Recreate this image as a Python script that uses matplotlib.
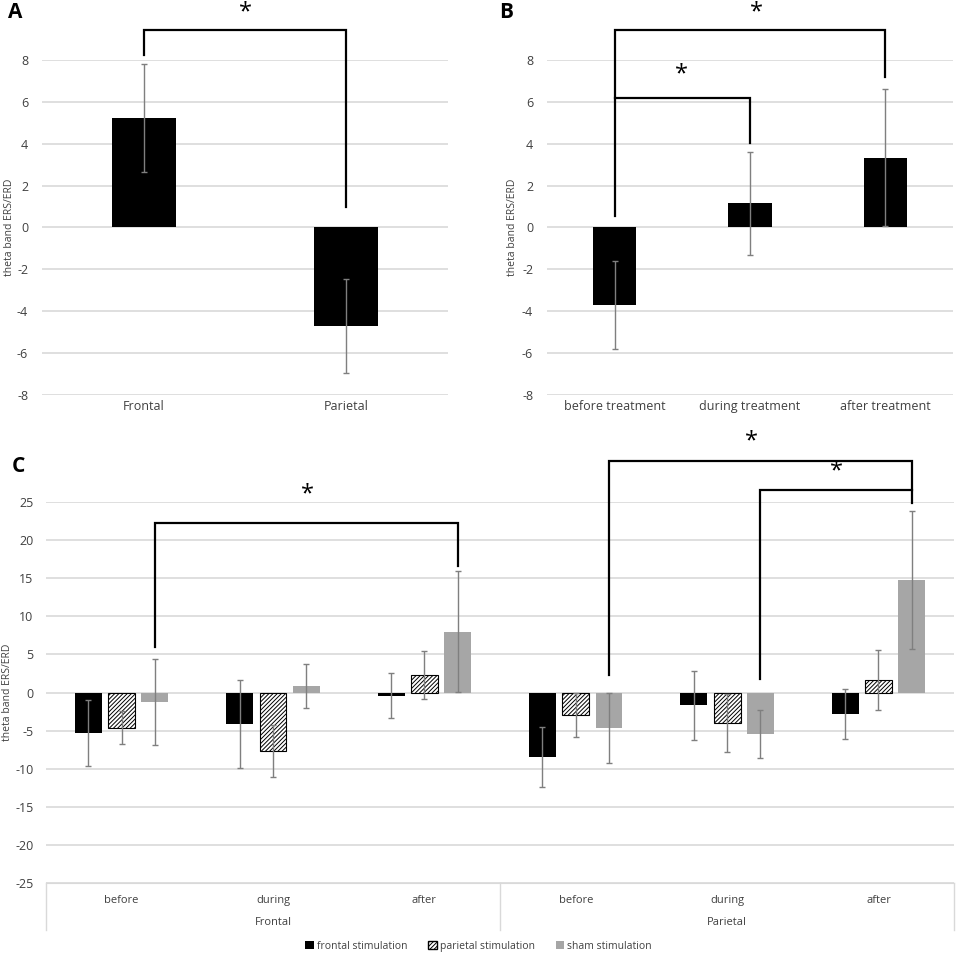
import numpy as np
import matplotlib.pyplot as plt
from matplotlib.patches import Patch

plt.rcParams['font.family'] = ['Open Sans', 'DejaVu Sans']
plt.rcParams['hatch.linewidth'] = 0.7
plt.rcParams['axes.unicode_minus'] = False

# panel A
a_labels = ['Frontal', 'Parietal']
a_means = [5.25, -4.7]
a_err = [2.6, 2.25]

# panel B
b_labels = ['before treatment', 'during treatment', 'after treatment']
b_means = [-3.7, 1.15, 3.35]
b_err = [2.1, 2.45, 3.28]

# panel C
c_phases = ['before', 'during', 'after', 'before', 'during', 'after']
c_regions = ['Frontal', 'Parietal']
frontal_stim = [-5.3, -4.1, -0.4, -8.5, -1.7, -2.8]
frontal_err = [4.3, 5.8, 2.9, 3.95, 4.5, 3.3]
parietal_stim = [-4.6, -7.65, 2.3, -2.95, -4.0, 1.6]
parietal_err = [2.2, 3.4, 3.2, 2.85, 3.8, 3.95]
sham_stim = [-1.3, 0.9, 8.0, -4.65, -5.45, 14.8]
sham_err = [5.65, 2.9, 7.9, 4.6, 3.1, 9.05]

GRID = '#d9d9d9'
ERR = '#7f7f7f'
SHAM = '#a6a6a6'
TXT = '#404040'


def style(ax, ticks, pad, label_x):
    for s in ax.spines.values():
        s.set_visible(False)
    ax.set_yticks(ticks)
    ax.yaxis.grid(True, color=GRID, linewidth=1.2)
    ax.set_axisbelow(True)
    ax.tick_params(axis='both', length=0, labelsize=9, colors=TXT)
    ax.tick_params(axis='y', pad=pad)
    ax.set_ylabel('theta band ERS/ERD', fontsize=7.5, color=TXT)
    ax.yaxis.set_label_coords(label_x, 0.5)


def bracket(ax, pts, star, fs=17):
    xs, ys = zip(*pts)
    ax.plot(xs, ys, color='black', lw=1.6, clip_on=False, solid_joinstyle='miter')
    ax.text(star[0], star[1], '*', ha='center', va='center', fontsize=fs,
            clip_on=False)


fig = plt.figure(figsize=(9.57, 9.55), dpi=100)

# ---- A
axA = fig.add_axes([0.044, 0.5864, 0.424, 0.3508])
xa = np.arange(len(a_labels))
axA.bar(xa, a_means, width=0.315, color='black')
axA.errorbar(xa, a_means, yerr=a_err, fmt='none', ecolor=ERR, elinewidth=1,
             capsize=2)
axA.set_xlim(-0.5, 1.5)
axA.set_ylim(-8.02, 8.02)
axA.set_xticks(xa, a_labels)
style(axA, np.arange(-8, 9, 2), 10, -0.068)
bracket(axA, [(0, 8.25), (0, 9.47), (1, 9.47), (1, 1.0)], (0.5, 10.3))
fig.text(0.008, 0.987, 'A', fontsize=15, fontweight='bold', va='center')

# ---- B
axB = fig.add_axes([0.5716, 0.5864, 0.4242, 0.3508])
xb = np.arange(len(b_labels))
axB.bar(xb, b_means, width=0.32, color='black')
axB.errorbar(xb, b_means, yerr=b_err, fmt='none', ecolor=ERR, elinewidth=1,
             capsize=2)
axB.set_xlim(-0.5, 2.5)
axB.set_ylim(-8.02, 8.02)
axB.set_xticks(xb, b_labels)
style(axB, np.arange(-8, 9, 2), 10, -0.071)
bracket(axB, [(0, 0.57), (0, 9.47), (2, 9.47), (2, 7.2)], (1.05, 10.3))
bracket(axB, [(0, 6.2), (1, 6.2), (1, 4.05)], (0.49, 7.35))
fig.text(0.522, 0.987, 'B', fontsize=15, fontweight='bold', va='center')

# ---- C
axC = fig.add_axes([0.048, 0.0754, 0.949, 0.3989])
xc = np.arange(len(c_phases))
off = 0.22
w = 0.178
axC.bar(xc - off, frontal_stim, width=w, color='black')
axC.bar(xc, parietal_stim, width=w, color='white', edgecolor='black',
        hatch='////////', linewidth=0.8)
axC.bar(xc + off, sham_stim, width=w, color=SHAM)
for dx, m, e in [(-off, frontal_stim, frontal_err), (0, parietal_stim, parietal_err),
                 (off, sham_stim, sham_err)]:
    axC.errorbar(xc + dx, m, yerr=e, fmt='none', ecolor=ERR, elinewidth=1,
                 capsize=2)
axC.set_xlim(-0.5, 5.5)
axC.set_ylim(-25, 25)
style(axC, np.arange(-25, 26, 5), 9, -0.036)
axC.set_xticks(xc, c_phases)
axC.tick_params(axis='x', pad=9, labelsize=8)
axC.spines['bottom'].set_visible(True)
axC.spines['bottom'].set_color(GRID)
for xs in [-0.5, 2.5, 5.5]:
    axC.plot([xs, xs], [-25, -31.2], color=GRID, lw=1, clip_on=False)
for i, r in enumerate(c_regions):
    axC.text(3 * i + 1, -30.2, r, ha='center', va='center', fontsize=8,
             color=TXT, clip_on=False)
bracket(axC, [(off, 6.0), (off, 22.25), (2 + off, 22.25), (2 + off, 16.6)],
        (1.23, 26.0))
bracket(axC, [(3 + off, 2.3), (3 + off, 30.4), (5 + off, 30.4), (5 + off, 24.9)],
        (4.16, 32.9))
bracket(axC, [(4 + off, 1.8), (4 + off, 26.6), (5 + off, 26.6)], (4.72, 29.0))
fig.text(0.012, 0.511, 'C', fontsize=15, fontweight='bold', va='center')

handles = [Patch(facecolor='black', label='frontal stimulation'),
           Patch(facecolor='white', edgecolor='black', hatch='////////',
                 label='parietal stimulation'),
           Patch(facecolor=SHAM, label='sham stimulation')]
fig.legend(handles=handles, loc='center', bbox_to_anchor=(0.5, 0.0094), ncol=3,
           frameon=False, fontsize=7.5, handlelength=0.8, handleheight=0.8,
           handletextpad=0.3, columnspacing=2.0, labelcolor=TXT)

fig.savefig('out.png', dpi=100)
